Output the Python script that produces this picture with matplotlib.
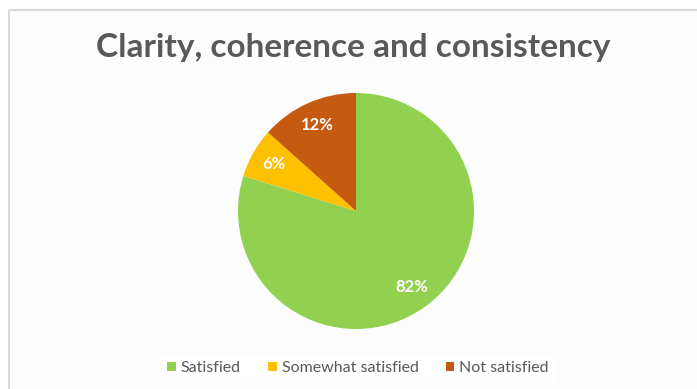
import matplotlib.pyplot as plt
from matplotlib.patches import Rectangle

categories = ['Satisfied', 'Somewhat satisfied', 'Not satisfied']
# slice sizes as drawn in the picture, and the percentages printed on them
slice_sizes = [79.8, 6.8, 13.4]
pct_labels = ['82%', '6%', '12%']
colors = ['#92D050', '#FFC000', '#C55A11']

W, H = 697, 389
plt.rcParams['hatch.color'] = '#f4f4f4'
plt.rcParams['hatch.linewidth'] = 1.5
fig = plt.figure(figsize=(W / 100, H / 100), dpi=100)
fig.patch.set_facecolor('white')

# chart area frame with faint diagonal hatch
bg = fig.add_axes([0, 0, 1, 1])
bg.set_xlim(0, W)
bg.set_ylim(H, 0)
bg.axis('off')
bg.add_patch(Rectangle((8.5, 9.5), W, H, facecolor='#fdfdfd', edgecolor='none', hatch='/////'))
bg.add_patch(Rectangle((8.5, 9.5), W, H, facecolor='none', edgecolor='#d9d9d9', linewidth=1.5))

fig.text(353 / W, 1 - 48 / H, 'Clarity, coherence and consistency', ha='center', va='center',
         fontsize=24, fontweight='bold', color='#595959', family='Lato')

cx, cy, r = 356, 211, 118
ax = fig.add_axes([(cx - r) / W, (H - cy - r) / H, 2 * r / W, 2 * r / H])
wedges, texts, autotexts = ax.pie(slice_sizes, colors=colors, startangle=90, counterclock=False,
                                  autopct='%d', pctdistance=0.8,
                                  wedgeprops=dict(linewidth=0),
                                  textprops=dict(color='white', fontsize=12,
                                                 fontweight='bold', family='Lato'))
for t, lab in zip(autotexts, pct_labels):
    t.set_text(lab)
ax.set_xlim(-1, 1)
ax.set_ylim(-1, 1)
ax.set_aspect('equal')

leg = fig.legend(wedges, categories, loc='center', bbox_to_anchor=(358 / W, 1 - 368 / H),
                 ncol=3, frameon=True, fancybox=False, edgecolor='white', facecolor='white',
                 framealpha=1, handlelength=0.55, handleheight=0.55, handletextpad=0.3,
                 columnspacing=1.7, borderpad=0.4,
                 prop=dict(family='Lato', size=11.5))
for t in leg.get_texts():
    t.set_color('#595959')

fig.savefig('out.png', dpi=100)
